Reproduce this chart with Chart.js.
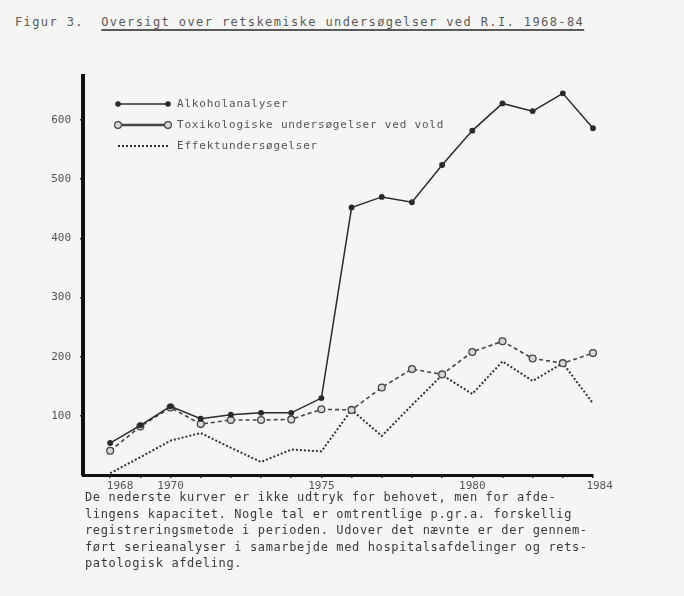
<!DOCTYPE html>
<html>
<head>
<meta charset="utf-8">
<script src="https://cdn.jsdelivr.net/npm/chart.js@4"></script>
<style>
  html, body { margin: 0; padding: 0; }
  body { width: 684px; height: 596px; background: #f5f5f4; position: relative; overflow: hidden;
         font-family: "DejaVu Sans Mono", "Liberation Mono", monospace; color: #4a4a4a; }
  #title { position: absolute; left: 15px; top: 14px; font-size: 12px; line-height: 16px;
           letter-spacing: 1.4px; white-space: pre; color: #5a5a5a; }
  #title u { text-decoration-thickness: 1.5px; text-underline-offset: 3px; }
  #caption { position: absolute; left: 85px; top: 489px; font-size: 12px; line-height: 16.5px;
             letter-spacing: 0.63px; white-space: pre; color: #3a3a3a; }
  #chart { position: absolute; left: 0; top: 60px; }
</style>
</head>
<body>
<div id="title">Figur 3.  <u>Oversigt over retskemiske undersøgelser ved R.I. 1968-84</u></div>
<canvas id="chart" width="684" height="450"></canvas>
<div id="caption">De nederste kurver er ikke udtryk for behovet, men for afde-
lingens kapacitet. Nogle tal er omtrentlige p.gr.a. forskellig
registreringsmetode i perioden. Udover det nævnte er der gennem-
ført serieanalyser i samarbejde med hospitalsafdelinger og rets-
patologisk afdeling.</div>
<script>
const years = [1968, 1969, 1970, 1971, 1972, 1973, 1974, 1975, 1976, 1977, 1978, 1979, 1980, 1981, 1982, 1983, 1984];
const alkohol = [54, 84, 116, 95, 102, 105, 105, 130, 452, 470, 461, 524, 582, 628, 615, 645, 586];
const toxikologi = [41, 82, 114, 86, 93, 93, 94, 111, 110, 148, 179, 170, 208, 226, 197, 189, 206];
const effekt = [3, 30, 58, 71, 46, 22, 43, 40, 110, 66, 118, 169, 137, 192, 159, 189, 121];
const yearLabels = [1968, 1970, 1975, 1980, 1984];
const yTicks = [100, 200, 300, 400, 500, 600];
const seriesNames = ["Alkoholanalyser", "Toxikologiske undersøgelser ved vold", "Effektundersøgelser"];

const mono = "'DejaVu Sans Mono', 'Liberation Mono', monospace";
const toXY = vals => vals.map((v, i) => ({ x: years[i], y: v }));

// the typed labels sit a bit right of their tick at both ends
const labelPad = { 1968: "   ", 1984: "  " };

// legend drawn inside the plot, like the typed original
const legendInside = {
  id: "legendInside",
  afterDatasetsDraw(chart) {
    const ctx = chart.ctx;
    const x0 = 118, x1 = 168;
    const rows = [44, 65, 86];
    ctx.save();
    chart.data.datasets.forEach((ds, i) => {
      const y = rows[i];
      ctx.strokeStyle = ds.borderColor;
      ctx.lineWidth = i === 1 ? 2.6 : ds.borderWidth;
      ctx.setLineDash(i === 2 ? [2, 2] : []);
      ctx.beginPath();
      ctx.moveTo(x0, y);
      ctx.lineTo(x1, y);
      ctx.stroke();
      ctx.setLineDash([]);
      if (ds.pointRadius > 0) {
        [x0, x1].forEach(px => {
          ctx.beginPath();
          ctx.arc(px, y, ds.pointRadius, 0, Math.PI * 2);
          ctx.fillStyle = ds.pointBackgroundColor;
          ctx.fill();
          ctx.lineWidth = 1.2;
          ctx.strokeStyle = ds.pointBorderColor;
          ctx.stroke();
        });
      }
      ctx.fillStyle = "#555";
      ctx.font = "11px " + mono;
      ctx.letterSpacing = "0.8px";
      ctx.textBaseline = "middle";
      ctx.fillText(seriesNames[i], 177, y);
    });
    ctx.restore();
  }
};

new Chart(document.getElementById("chart"), {
  type: "line",
  data: {
    datasets: [
      {
        label: seriesNames[0],
        data: toXY(alkohol),
        borderColor: "#2a2a2a",
        borderWidth: 1.5,
        pointRadius: 2.2,
        pointBackgroundColor: "#2a2a2a",
        pointBorderColor: "#2a2a2a",
        tension: 0,
        clip: false
      },
      {
        label: seriesNames[1],
        data: toXY(toxikologi),
        borderColor: "#454545",
        borderWidth: 1.6,
        borderDash: [4, 3],
        pointRadius: 3.4,
        pointBackgroundColor: "#d8d8d8",
        pointBorderColor: "#444",
        pointBorderWidth: 1.3,
        tension: 0,
        clip: false
      },
      {
        label: seriesNames[2],
        data: toXY(effekt),
        borderColor: "#333",
        borderWidth: 2,
        borderDash: [2, 2],
        pointRadius: 0,
        tension: 0,
        clip: false
      }
    ]
  },
  options: {
    responsive: false,
    animation: false,
    layout: { padding: { top: 15, right: 91, left: 0, bottom: 0 } },
    plugins: { legend: { display: false }, tooltip: { enabled: false } },
    scales: {
      x: {
        type: "linear",
        min: 1967.1,
        max: 1984,
        afterFit: s => { s.height = 35; },
        afterBuildTicks: s => { s.ticks = years.map(v => ({ value: v })); },
        ticks: {
          autoSkip: false,
          maxRotation: 0,
          padding: 2,
          color: "#555",
          font: { family: mono, size: 11 },
          callback: v => yearLabels.includes(v) ? (labelPad[v] || "") + v : ""
        },
        grid: { drawOnChartArea: false, drawTicks: true, tickLength: 3, color: "#333", lineWidth: 1.5 },
        border: { display: true, color: "#111", width: 3 }
      },
      y: {
        min: 0,
        max: 675,
        afterFit: s => { s.width = 83; },
        afterBuildTicks: s => { s.ticks = yTicks.map(v => ({ value: v })); },
        ticks: {
          padding: 9,
          color: "#555",
          font: { family: mono, size: 11 },
          callback: v => String(v)
        },
        grid: { drawOnChartArea: false, drawTicks: true, tickLength: 3, color: "#333", lineWidth: 1.5 },
        border: { display: true, color: "#111", width: 4 }
      }
    }
  },
  plugins: [legendInside]
});
</script>
</body>
</html>
